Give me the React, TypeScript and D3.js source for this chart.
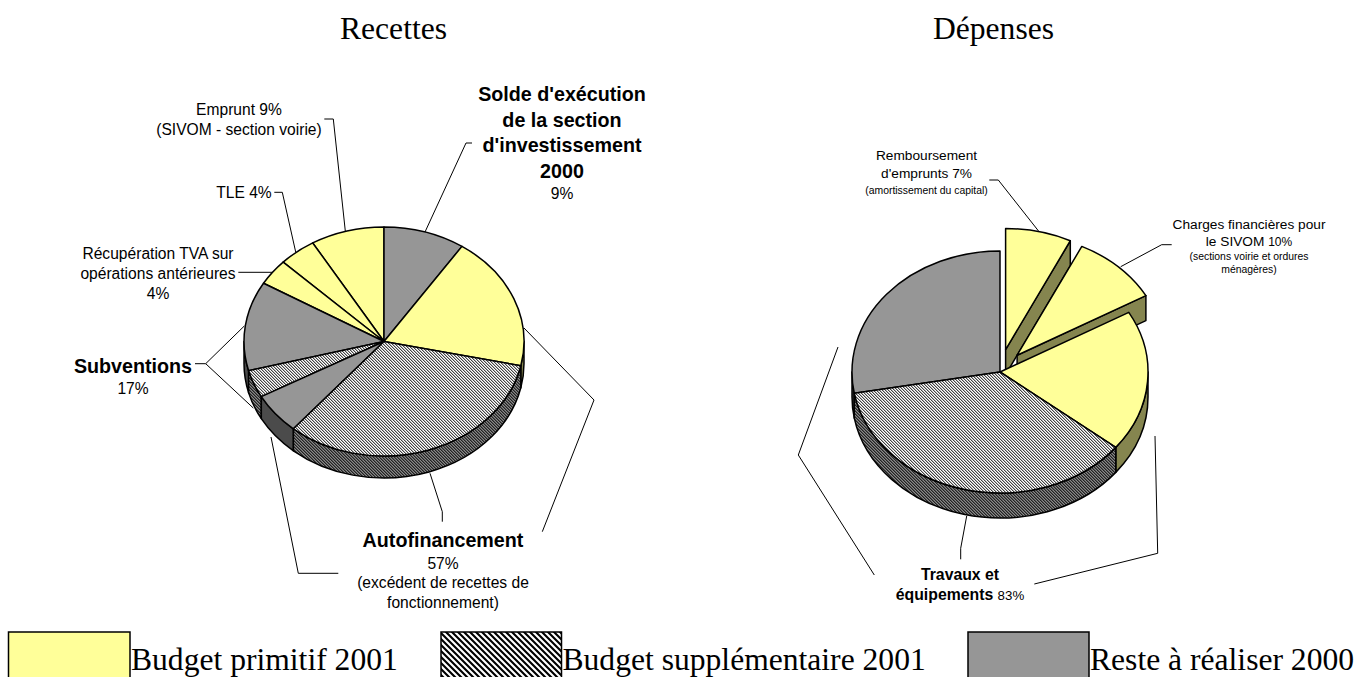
import * as d3 from 'd3';

const SANS = '"Liberation Sans", Arial, sans-serif';
const SERIF = '"Liberation Serif", "Times New Roman", serif';

// series of each slice: p = budget primitif, s = budget supplementaire, r = reste a realiser
const recettesValues = [9.4, 19, 32.8, 5.8, 3.9, 12.6, 3.7, 4.3, 8.5];
const recettesSeries = ['r', 'p', 's', 'r', 's', 'r', 'p', 'p', 'p'];
const depensesValues = [7.2, 9.6, 18.9, 36.5, 27.8];
const depensesSeries = ['p', 'p', 'p', 's', 'r'];
const depensesExploded = [1, 1, 0, 0, 0];

const legendLabels = ['Budget primitif 2001', 'Budget supplémentaire 2001', 'Reste à réaliser 2000'];
const legendSeries = ['p', 's', 'r'];
const legendX = [8.5, 441, 968];
const legendW = [121.5, 120.5, 121];

const TOP: Record<string, string> = { p: '#ffff99', s: 'url(#hatchTop)', r: '#969696' };
const SIDE: Record<string, string> = { p: '#85854f', s: 'url(#hatchSide)', r: '#4b4b4b' };

type Part = { t: string; size?: number; bold?: boolean };
type Label = { x: number; y: number; size: number; bold?: boolean; parts: Part[] | string };

const recettesLabels: Label[] = [
  { x: 562, y: 101, size: 19.7, bold: true, parts: "Solde d'exécution" },
  { x: 562, y: 127, size: 19.7, bold: true, parts: 'de la section' },
  { x: 562, y: 152, size: 19.7, bold: true, parts: "d'investissement" },
  { x: 562, y: 178, size: 19.7, bold: true, parts: '2000' },
  { x: 562, y: 199, size: 15.6, parts: '9%' },
  { x: 239, y: 115, size: 15.6, parts: 'Emprunt 9%' },
  { x: 239, y: 135, size: 15.6, parts: '(SIVOM - section voirie)' },
  { x: 244, y: 198, size: 15.6, parts: 'TLE 4%' },
  { x: 158, y: 258.5, size: 15.6, parts: 'Récupération TVA sur' },
  { x: 158, y: 278.5, size: 15.6, parts: 'opérations antérieures' },
  { x: 158, y: 298.5, size: 15.6, parts: '4%' },
  { x: 133, y: 372.5, size: 19.7, bold: true, parts: 'Subventions' },
  { x: 133, y: 394, size: 15.6, parts: '17%' },
  { x: 443, y: 547, size: 19.7, bold: true, parts: 'Autofinancement' },
  { x: 443, y: 568.5, size: 15.6, parts: '57%' },
  { x: 443, y: 587.5, size: 15.6, parts: '(excédent de recettes de' },
  { x: 443, y: 607.5, size: 15.6, parts: 'fonctionnement)' },
];

const depensesLabels: Label[] = [
  { x: 926.5, y: 160, size: 13.7, parts: 'Remboursement' },
  { x: 926.5, y: 178, size: 13.7, parts: "d'emprunts 7%" },
  { x: 926.5, y: 193.5, size: 10.4, parts: '(amortissement du capital)' },
  { x: 1249, y: 228.5, size: 13.7, parts: 'Charges financières pour' },
  { x: 1249, y: 245.5, size: 13.7, parts: [{ t: 'le SIVOM ' }, { t: '10%', size: 12 }] },
  { x: 1249, y: 259.5, size: 10.4, parts: '(sections voirie et ordures' },
  { x: 1249, y: 272.5, size: 10.4, parts: 'ménagères)' },
  { x: 960, y: 579.5, size: 15.8, bold: true, parts: 'Travaux et' },
  { x: 960, y: 599.5, size: 15.8, parts: [{ t: 'équipements ', bold: true }, { t: '83%', size: 13.3 }] },
];

const recettesLeaders: [number, number][][] = [
  [[472, 143], [466, 143], [425, 232]],
  [[324.3, 119], [333.3, 119], [345.3, 231]],
  [[274.3, 192.3], [282.3, 192.3], [295.7, 252]],
  [[238.3, 272.3], [272.3, 272.3]],
  [[195, 363.7], [205.7, 363.7], [244.3, 326]],
  [[205.7, 363.7], [253.3, 408]],
  [[271, 437], [298.3, 573.3], [338.3, 573.3]],
  [[430, 473.3], [442.3, 511.7], [442.3, 521.7]],
  [[524, 328], [594, 400], [542.3, 531.7]],
];

const depensesLeaders: [number, number][][] = [
  [[989.3, 180], [998.3, 180], [1039.3, 232]],
  [[1171.7, 244.7], [1161.7, 244.7], [1120.7, 266.7]],
  [[874.3, 575], [798.3, 455], [838, 347]],
  [[966.7, 516], [960.7, 548.3], [960.7, 559.3]],
  [[1034.3, 584], [1157.7, 553.3], [1155, 436]],
];

const leaderLine = d3.line();

type PieProps = {
  cx: number; cy: number; rx: number; ry: number; depth: number; explode: number;
  values: number[]; series: string[]; exploded?: number[];
};

function Pie3D({ cx, cy, rx, ry, depth, explode, values, series, exploded }: PieProps) {
  const arcs = d3.pie<number>().sort(null)(values);
  const slices = arcs.map((a, i) => ({
    a0: a.startAngle, a1: a.endAngle, key: series[i], off: exploded && exploded[i] ? explode : 0,
  })).map(s => {
    const mid = (s.a0 + s.a1) / 2;
    return { ...s, mid, ox: cx + s.off * Math.sin(mid), oy: cy - 0.92 * s.off * Math.cos(mid) };
  }).sort((p, q) => Math.cos(q.mid) - Math.cos(p.mid));

  return (
    <g stroke="#000" strokeWidth={1.5} strokeLinejoin="round">
      {slices.map((s, i) => {
        const pt = (a: number, dy = 0) => `${s.ox + rx * Math.sin(a)},${s.oy - ry * Math.cos(a) + dy}`;
        const large = s.a1 - s.a0 > Math.PI ? 1 : 0;
        const w0 = Math.max(s.a0, Math.PI / 2);
        const w1 = Math.min(s.a1, (3 * Math.PI) / 2);
        const apex = `${s.ox},${s.oy}`;
        const apexLow = `${s.ox},${s.oy + depth}`;
        return (
          <g key={i}>
            {w1 > w0 && (
              <path
                fill={SIDE[s.key]}
                d={`M${pt(w0)}A${rx},${ry} 0 0 1 ${pt(w1)}L${pt(w1, depth)}A${rx},${ry} 0 0 0 ${pt(w0, depth)}Z`}
              />
            )}
            {s.off > 0 && (
              <path fill={SIDE[s.key]} d={`M${apex}L${pt(s.a1)}L${pt(s.a1, depth)}L${apexLow}Z`} />
            )}
            <path
              fill={TOP[s.key]}
              d={`M${apex}L${pt(s.a0)}A${rx},${ry} 0 ${large} 1 ${pt(s.a1)}Z`}
            />
          </g>
        );
      })}
    </g>
  );
}

function Labels({ items }: { items: Label[] }) {
  return (
    <g fontFamily={SANS} fill="#000">
      {items.map((l, i) => (
        <text key={i} x={l.x} y={l.y} fontSize={l.size} fontWeight={l.bold ? 700 : 400} textAnchor="middle">
          {typeof l.parts === 'string'
            ? l.parts
            : l.parts.map((p, j) => (
                <tspan key={j} fontSize={p.size} fontWeight={p.bold ? 700 : undefined}>{p.t}</tspan>
              ))}
        </text>
      ))}
    </g>
  );
}

function Leaders({ lines }: { lines: [number, number][][] }) {
  return (
    <g fill="none" stroke="#000" strokeWidth={1}>
      {lines.map((l, i) => <path key={i} d={leaderLine(l) ?? ''} />)}
    </g>
  );
}

// soft stair-stepped diagonal on a 3px tile, one tone per diagonal
const stairRows = [0, 1, 2];

function Stair({ id, tones }: { id: string; tones: string[] }) {
  return (
    <pattern id={id} width={3} height={3} patternUnits="userSpaceOnUse">
      <g shapeRendering="crispEdges">
        {stairRows.map(r => tones.map((tone, k) => (
          <rect key={`${r}-${k}`} x={(r + k) % 3} y={r} width={1} height={1} fill={tone} />
        )))}
      </g>
    </pattern>
  );
}

export default function App() {
  return (
    <svg width={1361} height={677} style={{ position: 'absolute', left: 0, top: 0, background: '#fff' }}>
      <defs>
        <Stair id="hatchTop" tones={['#444', '#b4b4b4', '#fff']} />
        <Stair id="hatchSide" tones={['#222', '#555', '#888']} />
        <pattern id="hatchLegend" width={6} height={6} patternUnits="userSpaceOnUse">
          <rect width={6} height={6} fill="#fff" />
          <path d="M-1,-1L7,7M-1,5L1,7M5,-1L7,1" stroke="#000" strokeWidth={2.1} fill="none" />
        </pattern>
      </defs>

      <g fontFamily={SERIF} fontSize={31.6} fill="#000" textAnchor="middle">
        <text x={393.5} y={39}>Recettes</text>
        <text x={993.5} y={39}>Dépenses</text>
      </g>

      <Pie3D cx={384} cy={341.5} rx={140} ry={114.5} depth={22} explode={0}
        values={recettesValues} series={recettesSeries} />
      <Leaders lines={recettesLeaders} />
      <Labels items={recettesLabels} />

      <Pie3D cx={1000} cy={372} rx={148} ry={121} depth={25} explode={25}
        values={depensesValues} series={depensesSeries} exploded={depensesExploded} />
      <Leaders lines={depensesLeaders} />
      <Labels items={depensesLabels} />

      {legendLabels.map((label, i) => (
        <g key={label}>
          <rect x={legendX[i]} y={632} width={legendW[i]} height={50} stroke="#000" strokeWidth={1.5}
            fill={legendSeries[i] === 's' ? 'url(#hatchLegend)' : TOP[legendSeries[i]]} />
          <text x={legendX[i] + legendW[i] + 1} y={670} fontFamily={SERIF} fontSize={31.6} fill="#000">{label}</text>
        </g>
      ))}
    </svg>
  );
}
